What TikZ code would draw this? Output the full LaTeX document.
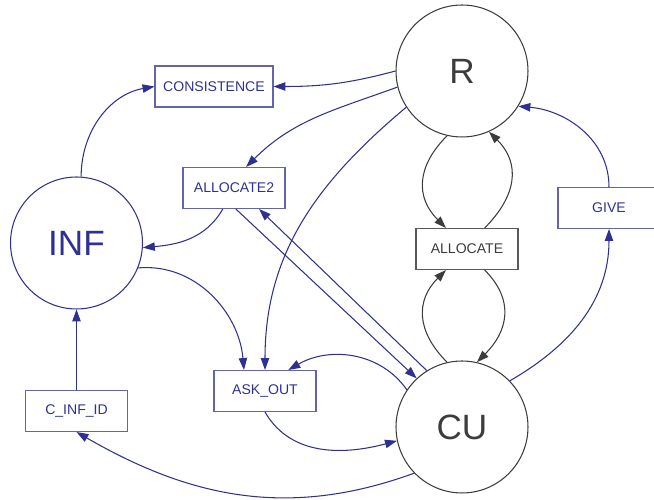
\documentclass[tikz,border=0pt]{standalone}
\usepackage{fontspec}
\setmainfont{Liberation Sans}
\usetikzlibrary{arrows.meta}
\definecolor{netblue}{RGB}{46,49,146}
\definecolor{netgray}{RGB}{60,60,60}
\begin{document}
\begin{tikzpicture}[x=0.02cm,y=0.02cm,
  >={Triangle[length=6.8pt,width=4.8pt]},
  place/.style={circle,draw,line width=0.6pt,minimum size=2.64cm,inner sep=0pt,font=\fontsize{20}{24}\selectfont},
  trans/.style={rectangle,draw,line width=0.6pt,minimum width=2.04cm,minimum height=0.82cm,inner sep=1pt,font=\fontsize{8}{10}\selectfont},
  btrans/.style={trans,text=netblue,draw=netblue!75},
  gtrans/.style={trans,text=netgray,draw=netgray!85},
  arc/.style={->,netblue,line width=0.6pt},
  garc/.style={->,netgray,line width=0.6pt,looseness=1.2}]
\useasboundingbox (0,0) rectangle (654,500);
\node[place,netgray](R) at (462,429) {R};
\node[place,netgray](CU) at (462,73) {CU};
\node[place,netblue](INF) at (76.5,257) {INF};
\node[btrans,minimum width=2.36cm](CONS) at (214,413.5) {CONSISTENCE};
\node[btrans](ALLOC2) at (234,312) {ALLOCATE2};
\node[gtrans](ALLOC) at (467,251) {ALLOCATE};
\node[btrans](GIVE) at (609,292) {GIVE};
\node[btrans](ASK) at (265,109) {ASK\_OUT};
\node[btrans](CINF) at (76.5,89) {C\_INF\_ID};
\draw[arc] (R.180) to[out=195,in=0] (CONS.east);
\draw[arc] (R.194) to[out=200,in=45] (ALLOC2.60);
\draw[arc] (R.213) to[out=220,in=90] (ASK.north);
\draw[arc] (INF.86) to[out=90,in=190] (CONS.west);
\draw[arc] (ALLOC2.-118) to[out=240,in=5] (INF.-4);
\draw[arc] (INF.-22) to[out=5,in=95] (ASK.135);
\draw[arc] (ALLOC2.-85) -- (CU.133);
\draw[arc] (CU.122) -- (ALLOC2.-40);
\draw[arc] (CU.146) to[out=125,in=30] (ASK.42);
\draw[arc] (ASK.south) to[out=-60,in=195] (CU.192);
\draw[arc] (CU.224) to[out=200,in=-30] (CINF.south);
\draw[arc] (CINF.north) -- (INF.south);
\draw[arc] (CU.44) to[out=30,in=-90] (GIVE.south);
\draw[arc] (GIVE.north) to[out=90,in=-5] (R.-32);
\draw[garc] (R.257) to[out=225,in=135] (ALLOC.135);
\draw[garc] (ALLOC.50) to[out=45,in=-45] (R.-66);
\draw[garc] (CU.103) to[out=135,in=-135] (ALLOC.-135);
\draw[garc] (ALLOC.-50) to[out=-45,in=45] (CU.77);
\end{tikzpicture}
\end{document}
